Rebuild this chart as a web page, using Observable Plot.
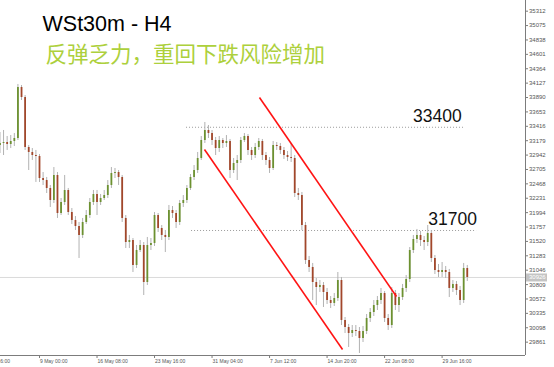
<!DOCTYPE html>
<html>
<head>
<meta charset="utf-8">
<script src="https://cdn.jsdelivr.net/npm/d3@7"></script>
<script src="https://cdn.jsdelivr.net/npm/@observablehq/plot@0.6"></script>
<style>
  html, body { margin: 0; padding: 0; background: #fff; }
  #chart { width: 554px; height: 367px; overflow: hidden; }
</style>
</head>
<body>
<div id="chart"></div>
<script>
// WSt30m, H4 candles aggregated into 8-hour bars (bar index on x)
const symbolTitle = "WSt30m - H4";
const headline = "反弹乏力，重回下跌风险增加";

const firstOpen = 33100;
const closes = [
  33133,33149,33116,33166,33215,34055,33890,33067,32985,32935,
  32919,32556,32523,32392,32194,32606,31980,32161,32359,31996,
  31865,31766,31618,31832,31947,32161,32293,32161,32227,32276,
  32441,32639,32655,32573,31898,31502,31535,31124,31370,31453,
  30843,31453,31486,31947,31733,31618,31585,32029,31980,31832,
  32145,32194,32392,32573,32688,32886,33182,33347,33297,33182,
  33050,33182,33133,33166,32688,32803,32853,33182,33248,33018,
  32935,33067,33166,32935,32853,32721,33100,33083,33018,32935,
  32902,32886,32309,32276,31782,31206,31091,30843,30761,30794,
  30679,30547,30498,30580,30876,30218,30102,30003,30053,30036,
  29921,30036,30251,30349,30464,30547,30662,30251,30135,30662,
  30464,30596,30745,30893,31370,31552,31618,31535,31502,31651,
  31239,31041,31008,31041,31008,30745,30811,30712,30547,31074,
  30926
];
const highs = [
  33314,33347,33248,33264,33297,34105,34088,33923,33100,33050,
  33018,32952,32655,32573,32441,32737,32655,32227,32606,32392,
  32062,31930,31832,31898,32029,32227,32359,32359,32293,32359,
  32523,32737,32721,32688,32606,31947,31618,31568,31453,31535,
  31502,31585,31568,31996,31980,31782,31700,32112,32095,32029,
  32194,32276,32441,32622,32770,32985,33248,33479,33429,33347,
  33232,33248,33215,33264,33199,32886,32935,33232,33297,33281,
  33067,33133,33215,33199,32985,32902,33166,33149,33133,33067,
  33001,33133,32935,32392,32326,31832,31272,31157,30909,30876,
  30843,30745,30613,30662,31008,30926,30267,30152,30135,30135,
  30102,30119,30316,30415,30547,30613,30745,30695,30316,30761,
  30712,30662,30811,30959,31420,31618,31717,31684,31601,31782,
  31700,31288,31140,31173,31107,31058,30876,30860,30778,31157,
  31124
];
const lows = [
  32968,32935,33018,33050,33083,33182,33841,33018,32688,32853,
  32491,32491,32441,32309,32079,32145,31898,31947,32112,31947,
  31799,31700,31239,31568,31799,31898,32112,31947,32112,32194,
  32227,32392,32556,32441,31832,31403,31403,31008,31074,31337,
  30629,30794,31370,31436,31667,31535,31337,31535,31898,31733,
  31782,32079,32145,32359,32523,32639,32853,33133,33215,33100,
  32935,32985,33050,33067,32556,32639,32523,32803,33149,32935,
  32853,32886,33018,32853,32770,32639,32688,33018,32952,32869,
  32836,32820,32243,32194,31700,31140,31008,30547,30464,30679,
  30432,30481,30415,30448,30531,30135,30003,29773,29937,29954,
  29674,29855,29987,30185,30284,30382,30481,30185,30053,30086,
  30382,30349,30547,30679,30843,31321,31486,31436,31370,31436,
  31173,30975,30926,30926,30909,30596,30679,30629,30464,30498,
  30860
];

// time axis: bar index of each label and its text
const timeTickBars = [-5, 11, 27, 43, 59, 75, 91, 107, 123];
const timeTickLabels = ["2 May 16:00", "9 May 00:00", "16 May 08:00", "23 May 16:00",
  "31 May 04:00", "7 Jun 12:00", "14 Jun 20:00", "22 Jun 08:00", "29 Jun 16:00"];

// price scale labels
const priceTicks = [35312, 35075, 34838, 34601, 34364, 34127, 33890, 33653, 33416,
  33179, 32942, 32705, 32468, 32231, 31994, 31757, 31520, 31283, 31046, 30809,
  30572, 30335, 30098, 29861];

// horizontal levels (price, first bar, last bar, bar where the label sits)
const levelPrices = [33400, 31700];
const levelFrom = [51.9, 53.3];
const levelTo = [129, 132.6];
const levelLabelBar = [121.7, 125.9];

// falling channel lines (bar, price) -> (bar, price)
const channelBar1 = [56.9, 72.2];
const channelPrice1 = [33034, 33890];
const channelBar2 = [95.3, 110.3];
const channelPrice2 = [29740, 30613];

const xDomain = [0.15, 146.2];
const yDomain = [29641, 35488];

const bars = closes.map((c, i) => ({
  i, open: i ? closes[i - 1] : firstOpen, close: c, high: highs[i], low: lows[i]
}));
const levels = levelPrices.map((p, k) => ({price: p, from: levelFrom[k], to: levelTo[k], at: levelLabelBar[k]}));
const channel = channelBar1.map((b, k) => ({x1: b, y1: channelPrice1[k], x2: channelBar2[k], y2: channelPrice2[k]}));
const timeTicks = timeTickBars.map((b, k) => ({bar: b, label: timeTickLabels[k]}));
const lastClose = closes[closes.length - 1];

const W = 554, H = 367, mR = 29, mB = 12;
const plotW = W - mR, plotH = H - mB;
const axisColor = "#7c7c7c";
const upColor = "#6c9130";
const downColor = "#a2472b";

const chart = Plot.plot({
  width: W,
  height: H,
  marginTop: 0,
  marginLeft: 0,
  marginRight: mR,
  marginBottom: mB,
  x: {domain: xDomain, axis: null},
  y: {domain: yDomain, axis: null},
  style: {fontFamily: "'Liberation Sans', Arial, sans-serif", background: "#fff"},
  marks: [
    // current price line
    Plot.ruleY([lastClose], {stroke: "#dadada"}),
    // dotted levels
    Plot.ruleY(levels, {y: "price", x1: "from", x2: "to", stroke: "#9c9c9c", strokeDasharray: "1,2"}),
    // candle wicks
    Plot.ruleX(bars, {x: "i", y1: "low", y2: "high", stroke: "#b2b2b2", strokeWidth: 1}),
    // candle bodies
    Plot.ruleX(bars.filter(d => d.close >= d.open), {x: "i", y1: "open", y2: "close", stroke: upColor, strokeWidth: 1.8}),
    Plot.ruleX(bars.filter(d => d.close < d.open), {x: "i", y1: "open", y2: "close", stroke: downColor, strokeWidth: 1.8}),
    // channel
    Plot.link(channel, {x1: "x1", y1: "y1", x2: "x2", y2: "y2", stroke: "#ff1414", strokeWidth: 1.6}),
    // level labels
    Plot.text(levels, {x: "at", y: "price", text: d => String(d.price), fontSize: 17.5, dy: -11, fill: "#111"}),
    // chart border (right and bottom)
    Plot.ruleX([xDomain[1]], {stroke: axisColor}),
    Plot.ruleY([yDomain[0]], {stroke: axisColor}),
    // price axis
    Plot.ruleY(priceTicks, {insetLeft: plotW, insetRight: -3, stroke: axisColor}),
    Plot.text(priceTicks, {y: d => d, text: d => String(d), frameAnchor: "right", dx: 3.5,
      textAnchor: "start", fontSize: 6, fill: "#555"}),
    // current price tag
    Plot.ruleY([lastClose], {insetLeft: plotW + 1, insetRight: -22, stroke: "#c4c4c4", strokeWidth: 8}),
    Plot.text([lastClose], {y: d => d, text: d => String(d), frameAnchor: "right", dx: 3.5,
      textAnchor: "start", fontSize: 6, fill: "#fff"}),
    // time axis
    Plot.ruleX(timeTicks, {x: "bar", insetTop: plotH, insetBottom: -3, stroke: axisColor}),
    Plot.text(timeTicks, {x: "bar", text: "label", frameAnchor: "bottom", dy: 7, dx: 0.5,
      textAnchor: "start", fontSize: 5, fill: "#555"}),
    // headings
    Plot.text([symbolTitle], {frameAnchor: "top-left", dx: 42, dy: 15.5, lineAnchor: "top",
      textAnchor: "start", fontSize: 21.5, fill: "#000"}),
    Plot.text([headline], {frameAnchor: "top-left", dx: 45, dy: 46, lineAnchor: "top",
      textAnchor: "start", fontSize: 21.5, fill: "#add03c",
      fontFamily: "'Noto Sans CJK SC', 'Noto Sans', sans-serif"})
  ]
});
document.getElementById("chart").append(chart);
</script>
</body>
</html>
